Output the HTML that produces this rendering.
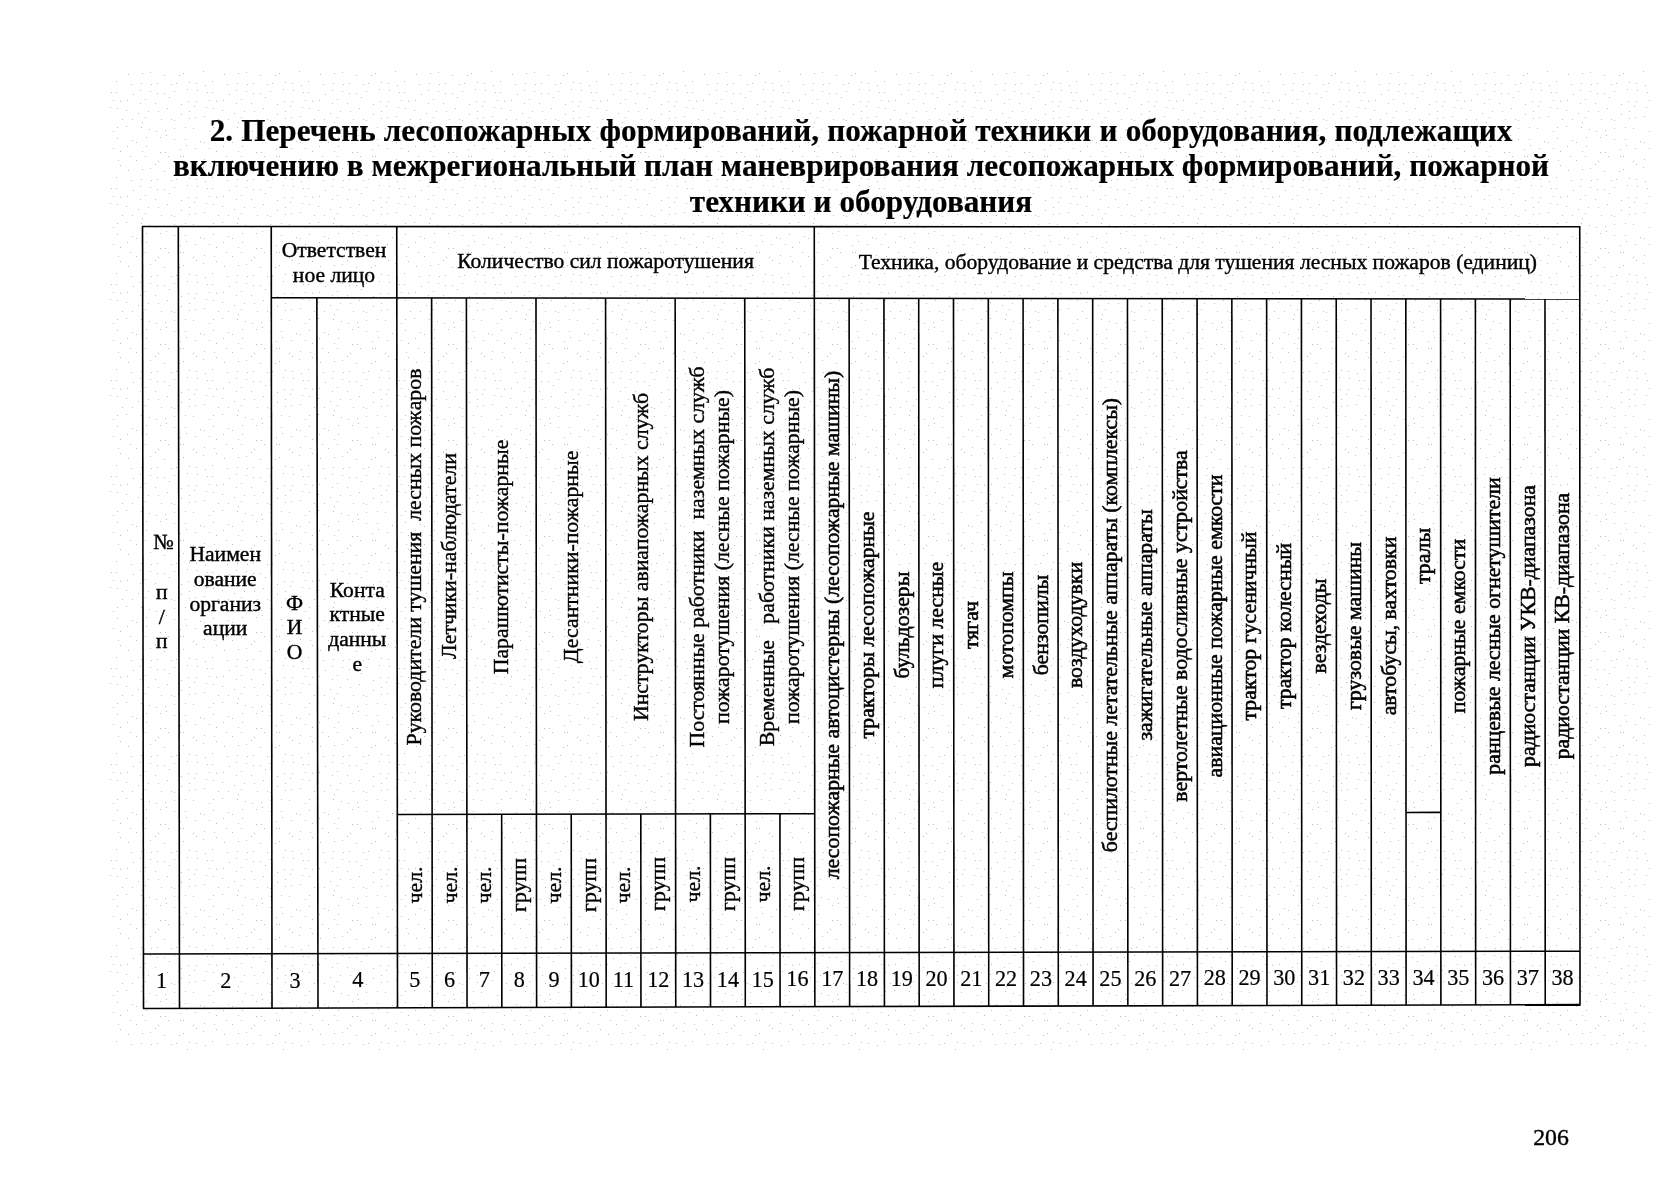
<!DOCTYPE html><html lang="ru"><head><meta charset="utf-8"><title>p206</title><style>html,body{margin:0;padding:0;background:#fff;overflow:hidden}
html{width:1677px;height:1200px}
body{width:1677px;height:1200px;position:relative;overflow:hidden;font-family:"Liberation Serif",serif;color:#000;-webkit-text-stroke:0.4px #000}
#tx{position:absolute;left:0;top:0;width:1677px;height:1200px;overflow:hidden;will-change:transform}
.t{-webkit-text-stroke:0.2px #000;position:absolute;left:45px;width:1632px;text-align:center;font-weight:bold;font-size:31.2px;line-height:36px;height:36px;white-space:nowrap}
.h{position:absolute;height:0;text-align:center;white-space:nowrap}
.h>div{transform:translateY(-50%)}
.v{-webkit-text-stroke:0.4px #000;position:absolute;height:0;text-align:center;white-space:nowrap;font-size:21.8px;line-height:24.8px;transform:translate(-50%,0) rotate(-90deg);transform-origin:50% 0}
.v>div{transform:translateY(-50%)}
</style></head><body><svg width="1677" height="1200" viewBox="0 0 1677 1200" style="position:absolute;left:0;top:0">
<defs><pattern id="dz" width="96" height="96" patternUnits="userSpaceOnUse"><g fill="#bebebe"><rect x="4" y="5" width="1" height="1"/><rect x="17" y="4" width="1" height="1"/><rect x="24" y="5" width="1" height="1"/><rect x="31" y="4" width="1" height="1"/><rect x="44" y="7" width="1" height="1"/><rect x="49" y="3" width="1" height="1"/><rect x="59" y="7" width="1" height="1"/><rect x="73" y="1" width="1" height="1"/><rect x="85" y="8" width="1" height="1"/><rect x="92" y="5" width="1" height="1"/><rect x="2" y="10" width="1" height="1"/><rect x="14" y="11" width="1" height="1"/><rect x="21" y="12" width="1" height="1"/><rect x="30" y="14" width="1" height="1"/><rect x="42" y="17" width="1" height="1"/><rect x="52" y="15" width="1" height="1"/><rect x="62" y="15" width="1" height="1"/><rect x="71" y="12" width="1" height="1"/><rect x="85" y="18" width="1" height="1"/><rect x="93" y="15" width="1" height="1"/><rect x="3" y="21" width="1" height="1"/><rect x="12" y="20" width="1" height="1"/><rect x="26" y="23" width="1" height="1"/><rect x="36" y="23" width="1" height="1"/><rect x="46" y="26" width="1" height="1"/><rect x="49" y="21" width="1" height="1"/><rect x="65" y="23" width="1" height="1"/><rect x="75" y="23" width="1" height="1"/><rect x="78" y="24" width="1" height="1"/><rect x="93" y="22" width="1" height="1"/><rect x="1" y="32" width="1" height="1"/><rect x="17" y="35" width="1" height="1"/><rect x="21" y="31" width="1" height="1"/><rect x="30" y="30" width="1" height="1"/><rect x="45" y="31" width="1" height="1"/><rect x="53" y="33" width="1" height="1"/><rect x="60" y="35" width="1" height="1"/><rect x="69" y="34" width="1" height="1"/><rect x="78" y="32" width="1" height="1"/><rect x="89" y="31" width="1" height="1"/><rect x="8" y="45" width="1" height="1"/><rect x="12" y="46" width="1" height="1"/><rect x="21" y="42" width="1" height="1"/><rect x="36" y="44" width="1" height="1"/><rect x="40" y="46" width="1" height="1"/><rect x="50" y="41" width="1" height="1"/><rect x="64" y="41" width="1" height="1"/><rect x="70" y="39" width="1" height="1"/><rect x="78" y="43" width="1" height="1"/><rect x="89" y="43" width="1" height="1"/><rect x="3" y="52" width="1" height="1"/><rect x="17" y="52" width="1" height="1"/><rect x="24" y="55" width="1" height="1"/><rect x="31" y="50" width="1" height="1"/><rect x="46" y="55" width="1" height="1"/><rect x="50" y="50" width="1" height="1"/><rect x="64" y="56" width="1" height="1"/><rect x="69" y="56" width="1" height="1"/><rect x="84" y="53" width="1" height="1"/><rect x="90" y="49" width="1" height="1"/><rect x="1" y="65" width="1" height="1"/><rect x="12" y="63" width="1" height="1"/><rect x="22" y="64" width="1" height="1"/><rect x="34" y="60" width="1" height="1"/><rect x="40" y="64" width="1" height="1"/><rect x="49" y="60" width="1" height="1"/><rect x="62" y="65" width="1" height="1"/><rect x="72" y="60" width="1" height="1"/><rect x="84" y="60" width="1" height="1"/><rect x="87" y="60" width="1" height="1"/><rect x="4" y="68" width="1" height="1"/><rect x="11" y="71" width="1" height="1"/><rect x="24" y="69" width="1" height="1"/><rect x="32" y="74" width="1" height="1"/><rect x="46" y="73" width="1" height="1"/><rect x="54" y="72" width="1" height="1"/><rect x="59" y="68" width="1" height="1"/><rect x="68" y="75" width="1" height="1"/><rect x="83" y="75" width="1" height="1"/><rect x="87" y="73" width="1" height="1"/><rect x="4" y="83" width="1" height="1"/><rect x="13" y="85" width="1" height="1"/><rect x="20" y="81" width="1" height="1"/><rect x="35" y="84" width="1" height="1"/><rect x="45" y="83" width="1" height="1"/><rect x="55" y="84" width="1" height="1"/><rect x="61" y="83" width="1" height="1"/><rect x="75" y="84" width="1" height="1"/><rect x="80" y="83" width="1" height="1"/><rect x="93" y="82" width="1" height="1"/><rect x="5" y="90" width="1" height="1"/><rect x="15" y="92" width="1" height="1"/><rect x="20" y="92" width="1" height="1"/><rect x="37" y="94" width="1" height="1"/><rect x="44" y="90" width="1" height="1"/><rect x="54" y="91" width="1" height="1"/><rect x="61" y="93" width="1" height="1"/><rect x="68" y="93" width="1" height="1"/><rect x="78" y="91" width="1" height="1"/><rect x="91" y="89" width="1" height="1"/></g></pattern></defs>
<rect x="110" y="70" width="1540" height="980" fill="url(#dz)"/>
<g stroke="#000" stroke-width="1.6" stroke-linecap="butt" fill="none">
<line x1="142.50" y1="226.50" x2="143.50" y2="1008.50"/>
<line x1="178.30" y1="226.51" x2="179.50" y2="1008.40"/>
<line x1="271.25" y1="226.53" x2="272.00" y2="1008.15"/>
<line x1="316.86" y1="297.77" x2="318.00" y2="1008.03"/>
<line x1="396.75" y1="226.55" x2="397.50" y2="1007.81"/>
<line x1="431.61" y1="297.88" x2="432.28" y2="1007.71"/>
<line x1="466.40" y1="297.92" x2="467.06" y2="1007.62"/>
<line x1="501.66" y1="814.25" x2="501.84" y2="1007.53"/>
<line x1="535.99" y1="297.98" x2="536.62" y2="1007.43"/>
<line x1="571.23" y1="814.12" x2="571.40" y2="1007.34"/>
<line x1="605.58" y1="298.05" x2="606.18" y2="1007.24"/>
<line x1="640.80" y1="814.00" x2="640.96" y2="1007.15"/>
<line x1="675.16" y1="298.12" x2="675.74" y2="1007.05"/>
<line x1="710.36" y1="813.87" x2="710.52" y2="1006.96"/>
<line x1="744.75" y1="298.19" x2="745.29" y2="1006.87"/>
<line x1="779.93" y1="813.75" x2="780.07" y2="1006.77"/>
<line x1="814.28" y1="226.64" x2="814.85" y2="1006.68"/>
<line x1="849.12" y1="298.29" x2="849.63" y2="1006.58"/>
<line x1="883.92" y1="298.32" x2="884.41" y2="1006.49"/>
<line x1="918.71" y1="298.36" x2="919.19" y2="1006.39"/>
<line x1="953.50" y1="298.39" x2="953.97" y2="1006.30"/>
<line x1="988.30" y1="298.42" x2="988.75" y2="1006.20"/>
<line x1="1023.09" y1="298.46" x2="1023.53" y2="1006.11"/>
<line x1="1057.88" y1="298.49" x2="1058.31" y2="1006.02"/>
<line x1="1092.67" y1="298.53" x2="1093.09" y2="1005.92"/>
<line x1="1127.47" y1="298.56" x2="1127.87" y2="1005.83"/>
<line x1="1162.26" y1="298.59" x2="1162.65" y2="1005.73"/>
<line x1="1197.05" y1="298.63" x2="1197.43" y2="1005.64"/>
<line x1="1231.85" y1="298.66" x2="1232.21" y2="1005.54"/>
<line x1="1266.64" y1="298.70" x2="1266.98" y2="1005.45"/>
<line x1="1301.43" y1="298.73" x2="1301.76" y2="1005.35"/>
<line x1="1336.22" y1="298.76" x2="1336.54" y2="1005.26"/>
<line x1="1371.02" y1="298.80" x2="1371.32" y2="1005.17"/>
<line x1="1405.81" y1="298.83" x2="1406.10" y2="1005.07"/>
<line x1="1440.60" y1="298.86" x2="1440.88" y2="1004.98"/>
<line x1="1475.39" y1="298.90" x2="1475.66" y2="1004.88"/>
<line x1="1510.19" y1="298.93" x2="1510.44" y2="1004.79"/>
<line x1="1544.98" y1="298.97" x2="1545.22" y2="1004.69"/>
<line x1="1579.75" y1="226.80" x2="1580.00" y2="1004.60"/>
<line x1="141.90" y1="226.50" x2="1580.35" y2="226.80"/>
<line x1="142.90" y1="1008.50" x2="1580.60" y2="1004.60"/>
<line x1="143.43" y1="954.00" x2="1579.98" y2="951.20"/>
<line x1="271.25" y1="297.73" x2="1579.75" y2="299.00"/>
<line x1="397.31" y1="814.44" x2="814.71" y2="813.68"/>
<line x1="1406.02" y1="812.50" x2="1440.81" y2="812.40"/>
</g></svg>
<div id="tx"><div class="t" style="top:112.57px;word-spacing:0.4px;">2. Перечень лесопожарных формирований, пожарной техники и оборудования, подлежащих</div>
<div class="t" style="top:148.27px;">включению в межрегиональный план маневрирования лесопожарных формирований, пожарной</div>
<div class="t" style="top:184.07px;">техники и оборудования</div>
<div class="h" style="left:143.71px;top:592.13px;width:36.00px;font-size:21.6px;line-height:24.8px;"><div><span style="position:relative;left:1.6px">№</span><br>&nbsp;<br>п<br>/<br>п</div></div>
<div class="h" style="left:179.23px;top:592.08px;width:92.00px;font-size:21.6px;line-height:24.8px;"><div>Наимен<br>ование<br>организ<br>ации</div></div>
<div class="h" style="left:272.01px;top:627.63px;width:45.00px;font-size:21.6px;line-height:24.8px;"><div>Ф<br>И<br>О</div></div>
<div class="h" style="left:317.26px;top:627.60px;width:80.00px;font-size:21.6px;line-height:24.8px;"><div>Конта<br>ктные<br>данны<br>е</div></div>
<div class="h" style="left:271.53px;top:263.06px;width:125.00px;font-size:21.6px;line-height:24.8px;"><div>Ответствен<br>ное лицо</div></div>
<div class="h" style="left:397.05px;top:261.32px;width:417.00px;font-size:21.6px;line-height:24.8px;"><div>Количество сил пожаротушения</div></div>
<div class="h" style="left:815.33px;top:261.67px;width:765.00px;font-size:21.6px;line-height:24.8px;"><div>Техника, оборудование и средства для тушения лесных пожаров (единиц)</div></div>
<div class="v" style="left:414.46px;top:557.14px;width:516.5px;"><div>Руководители тушения&nbsp; лесных пожаров</div></div>
<div class="v" style="left:449.25px;top:555.52px;width:516.4px;"><div>Летчики-наблюдатели</div></div>
<div class="v" style="left:501.43px;top:557.10px;width:516.3px;"><div>Парашютисты-пожарные</div></div>
<div class="v" style="left:571.01px;top:557.07px;width:516.1px;"><div>Десантники-пожарные</div></div>
<div class="v" style="left:640.58px;top:557.04px;width:515.9px;"><div>Инструкторы авиапожарных служб</div></div>
<div class="v" style="left:710.16px;top:557.01px;width:515.7px;"><div>Постоянные работники&nbsp; наземных служб<br>пожаротушения (лесные пожарные)</div></div>
<div class="v" style="left:779.73px;top:556.98px;width:515.5px;"><div>Временные&nbsp;&nbsp; работники наземных служб<br>пожаротушения (лесные пожарные)</div></div>
<div class="v" style="left:414.77px;top:884.94px;width:139.1px;"><div>чел.</div></div>
<div class="v" style="left:449.55px;top:884.87px;width:139.1px;"><div>чел.</div></div>
<div class="v" style="left:484.34px;top:884.81px;width:139.1px;"><div>чел.</div></div>
<div class="v" style="left:519.12px;top:884.74px;width:139.0px;"><div>групп</div></div>
<div class="v" style="left:553.90px;top:884.68px;width:139.0px;"><div>чел.</div></div>
<div class="v" style="left:588.68px;top:884.61px;width:139.0px;"><div>групп</div></div>
<div class="v" style="left:623.46px;top:884.55px;width:139.0px;"><div>чел.</div></div>
<div class="v" style="left:658.24px;top:884.48px;width:139.0px;"><div>групп</div></div>
<div class="v" style="left:693.03px;top:884.42px;width:139.0px;"><div>чел.</div></div>
<div class="v" style="left:727.81px;top:884.35px;width:139.0px;"><div>групп</div></div>
<div class="v" style="left:762.59px;top:884.29px;width:139.0px;"><div>чел.</div></div>
<div class="v" style="left:797.37px;top:884.22px;width:139.0px;"><div>групп</div></div>
<div class="v" style="left:831.97px;top:624.96px;width:654.4px;-webkit-text-stroke:0.55px #000;"><div>лесопожарные автоцистерны (лесопожарные машины)</div></div>
<div class="v" style="left:866.75px;top:625.02px;width:654.3px;-webkit-text-stroke:0.55px #000;"><div>тракторы лесопожарные</div></div>
<div class="v" style="left:901.54px;top:625.07px;width:654.2px;-webkit-text-stroke:0.55px #000;"><div>бульдозеры</div></div>
<div class="v" style="left:936.33px;top:625.13px;width:654.1px;-webkit-text-stroke:0.55px #000;"><div>плуги лесные</div></div>
<div class="v" style="left:971.11px;top:625.18px;width:654.0px;-webkit-text-stroke:0.55px #000;"><div>тягач</div></div>
<div class="v" style="left:1005.90px;top:625.24px;width:653.9px;-webkit-text-stroke:0.55px #000;"><div>мотопомпы</div></div>
<div class="v" style="left:1040.69px;top:625.29px;width:653.8px;-webkit-text-stroke:0.55px #000;"><div>бензопилы</div></div>
<div class="v" style="left:1075.47px;top:625.35px;width:653.7px;-webkit-text-stroke:0.55px #000;"><div>воздуходувки</div></div>
<div class="v" style="left:1110.26px;top:625.40px;width:653.6px;-webkit-text-stroke:0.55px #000;"><div>беспилотные летательные аппараты (комплексы)</div></div>
<div class="v" style="left:1145.05px;top:625.45px;width:653.5px;-webkit-text-stroke:0.55px #000;"><div>зажигательные аппараты</div></div>
<div class="v" style="left:1179.83px;top:625.51px;width:653.4px;-webkit-text-stroke:0.55px #000;"><div>вертолетные водосливные устройства</div></div>
<div class="v" style="left:1214.62px;top:625.56px;width:653.3px;-webkit-text-stroke:0.55px #000;"><div>авиационные пожарные емкости</div></div>
<div class="v" style="left:1249.41px;top:625.62px;width:653.2px;-webkit-text-stroke:0.55px #000;"><div>трактор гусеничный</div></div>
<div class="v" style="left:1284.19px;top:625.67px;width:653.1px;-webkit-text-stroke:0.55px #000;"><div>трактор колесный</div></div>
<div class="v" style="left:1318.98px;top:625.73px;width:653.0px;-webkit-text-stroke:0.55px #000;"><div>вездеходы</div></div>
<div class="v" style="left:1353.76px;top:625.78px;width:652.9px;-webkit-text-stroke:0.55px #000;"><div>грузовые машины</div></div>
<div class="v" style="left:1388.55px;top:625.84px;width:652.8px;-webkit-text-stroke:0.55px #000;"><div>автобусы, вахтовки</div></div>
<div class="v" style="left:1423.31px;top:556.39px;width:513.7px;-webkit-text-stroke:0.55px #000;"><div>тралы</div></div>
<div class="v" style="left:1458.12px;top:625.94px;width:652.6px;-webkit-text-stroke:0.55px #000;"><div>пожарные емкости</div></div>
<div class="v" style="left:1492.91px;top:626.00px;width:652.5px;-webkit-text-stroke:0.55px #000;"><div>ранцевые лесные огнетушители</div></div>
<div class="v" style="left:1527.70px;top:626.05px;width:652.4px;-webkit-text-stroke:0.55px #000;"><div>радиостанции УКВ-диапазона</div></div>
<div class="v" style="left:1562.48px;top:626.11px;width:652.3px;-webkit-text-stroke:0.55px #000;"><div>радиостанции КВ-диапазона</div></div>
<div class="h" style="left:143.56px;top:980.91px;width:35.80px;font-size:22.2px;line-height:24.8px;-webkit-text-stroke:0.2px #000;"><div>1</div></div>
<div class="h" style="left:179.24px;top:980.76px;width:92.95px;font-size:22.2px;line-height:24.8px;-webkit-text-stroke:0.2px #000;"><div>2</div></div>
<div class="h" style="left:272.22px;top:980.60px;width:45.50px;font-size:22.2px;line-height:24.8px;-webkit-text-stroke:0.2px #000;"><div>3</div></div>
<div class="h" style="left:317.72px;top:980.45px;width:80.00px;font-size:22.2px;line-height:24.8px;-webkit-text-stroke:0.2px #000;"><div>4</div></div>
<div class="h" style="left:397.47px;top:980.32px;width:34.79px;font-size:22.2px;line-height:24.8px;-webkit-text-stroke:0.2px #000;"><div>5</div></div>
<div class="h" style="left:432.25px;top:980.23px;width:34.79px;font-size:22.2px;line-height:24.8px;-webkit-text-stroke:0.2px #000;"><div>6</div></div>
<div class="h" style="left:467.03px;top:980.15px;width:34.79px;font-size:22.2px;line-height:24.8px;-webkit-text-stroke:0.2px #000;"><div>7</div></div>
<div class="h" style="left:501.81px;top:980.07px;width:34.79px;font-size:22.2px;line-height:24.8px;-webkit-text-stroke:0.2px #000;"><div>8</div></div>
<div class="h" style="left:536.59px;top:979.99px;width:34.79px;font-size:22.2px;line-height:24.8px;-webkit-text-stroke:0.2px #000;"><div>9</div></div>
<div class="h" style="left:571.37px;top:979.91px;width:34.79px;font-size:22.2px;line-height:24.8px;-webkit-text-stroke:0.2px #000;"><div>10</div></div>
<div class="h" style="left:606.15px;top:979.83px;width:34.79px;font-size:22.2px;line-height:24.8px;-webkit-text-stroke:0.2px #000;"><div>11</div></div>
<div class="h" style="left:640.93px;top:979.75px;width:34.79px;font-size:22.2px;line-height:24.8px;-webkit-text-stroke:0.2px #000;"><div>12</div></div>
<div class="h" style="left:675.71px;top:979.67px;width:34.79px;font-size:22.2px;line-height:24.8px;-webkit-text-stroke:0.2px #000;"><div>13</div></div>
<div class="h" style="left:710.49px;top:979.59px;width:34.79px;font-size:22.2px;line-height:24.8px;-webkit-text-stroke:0.2px #000;"><div>14</div></div>
<div class="h" style="left:745.27px;top:979.51px;width:34.79px;font-size:22.2px;line-height:24.8px;-webkit-text-stroke:0.2px #000;"><div>15</div></div>
<div class="h" style="left:780.05px;top:979.42px;width:34.79px;font-size:22.2px;line-height:24.8px;-webkit-text-stroke:0.2px #000;"><div>16</div></div>
<div class="h" style="left:814.83px;top:979.34px;width:34.79px;font-size:22.2px;line-height:24.8px;-webkit-text-stroke:0.2px #000;"><div>17</div></div>
<div class="h" style="left:849.61px;top:979.26px;width:34.79px;font-size:22.2px;line-height:24.8px;-webkit-text-stroke:0.2px #000;"><div>18</div></div>
<div class="h" style="left:884.39px;top:979.18px;width:34.79px;font-size:22.2px;line-height:24.8px;-webkit-text-stroke:0.2px #000;"><div>19</div></div>
<div class="h" style="left:919.17px;top:979.10px;width:34.79px;font-size:22.2px;line-height:24.8px;-webkit-text-stroke:0.2px #000;"><div>20</div></div>
<div class="h" style="left:953.95px;top:979.02px;width:34.79px;font-size:22.2px;line-height:24.8px;-webkit-text-stroke:0.2px #000;"><div>21</div></div>
<div class="h" style="left:988.73px;top:978.94px;width:34.79px;font-size:22.2px;line-height:24.8px;-webkit-text-stroke:0.2px #000;"><div>22</div></div>
<div class="h" style="left:1023.51px;top:978.86px;width:34.79px;font-size:22.2px;line-height:24.8px;-webkit-text-stroke:0.2px #000;"><div>23</div></div>
<div class="h" style="left:1058.29px;top:978.78px;width:34.79px;font-size:22.2px;line-height:24.8px;-webkit-text-stroke:0.2px #000;"><div>24</div></div>
<div class="h" style="left:1093.07px;top:978.69px;width:34.79px;font-size:22.2px;line-height:24.8px;-webkit-text-stroke:0.2px #000;"><div>25</div></div>
<div class="h" style="left:1127.84px;top:978.61px;width:34.79px;font-size:22.2px;line-height:24.8px;-webkit-text-stroke:0.2px #000;"><div>26</div></div>
<div class="h" style="left:1162.62px;top:978.53px;width:34.79px;font-size:22.2px;line-height:24.8px;-webkit-text-stroke:0.2px #000;"><div>27</div></div>
<div class="h" style="left:1197.40px;top:978.45px;width:34.79px;font-size:22.2px;line-height:24.8px;-webkit-text-stroke:0.2px #000;"><div>28</div></div>
<div class="h" style="left:1232.18px;top:978.37px;width:34.79px;font-size:22.2px;line-height:24.8px;-webkit-text-stroke:0.2px #000;"><div>29</div></div>
<div class="h" style="left:1266.96px;top:978.29px;width:34.79px;font-size:22.2px;line-height:24.8px;-webkit-text-stroke:0.2px #000;"><div>30</div></div>
<div class="h" style="left:1301.74px;top:978.21px;width:34.79px;font-size:22.2px;line-height:24.8px;-webkit-text-stroke:0.2px #000;"><div>31</div></div>
<div class="h" style="left:1336.52px;top:978.13px;width:34.79px;font-size:22.2px;line-height:24.8px;-webkit-text-stroke:0.2px #000;"><div>32</div></div>
<div class="h" style="left:1371.30px;top:978.05px;width:34.79px;font-size:22.2px;line-height:24.8px;-webkit-text-stroke:0.2px #000;"><div>33</div></div>
<div class="h" style="left:1406.08px;top:977.96px;width:34.79px;font-size:22.2px;line-height:24.8px;-webkit-text-stroke:0.2px #000;"><div>34</div></div>
<div class="h" style="left:1440.86px;top:977.88px;width:34.79px;font-size:22.2px;line-height:24.8px;-webkit-text-stroke:0.2px #000;"><div>35</div></div>
<div class="h" style="left:1475.64px;top:977.80px;width:34.79px;font-size:22.2px;line-height:24.8px;-webkit-text-stroke:0.2px #000;"><div>36</div></div>
<div class="h" style="left:1510.42px;top:977.72px;width:34.79px;font-size:22.2px;line-height:24.8px;-webkit-text-stroke:0.2px #000;"><div>37</div></div>
<div class="h" style="left:1545.20px;top:977.64px;width:34.79px;font-size:22.2px;line-height:24.8px;-webkit-text-stroke:0.2px #000;"><div>38</div></div>
<div class="h" style="left:1521px;top:1136.67px;width:60px;font-size:23.8px;line-height:26px"><div>206</div></div></div></body></html>
